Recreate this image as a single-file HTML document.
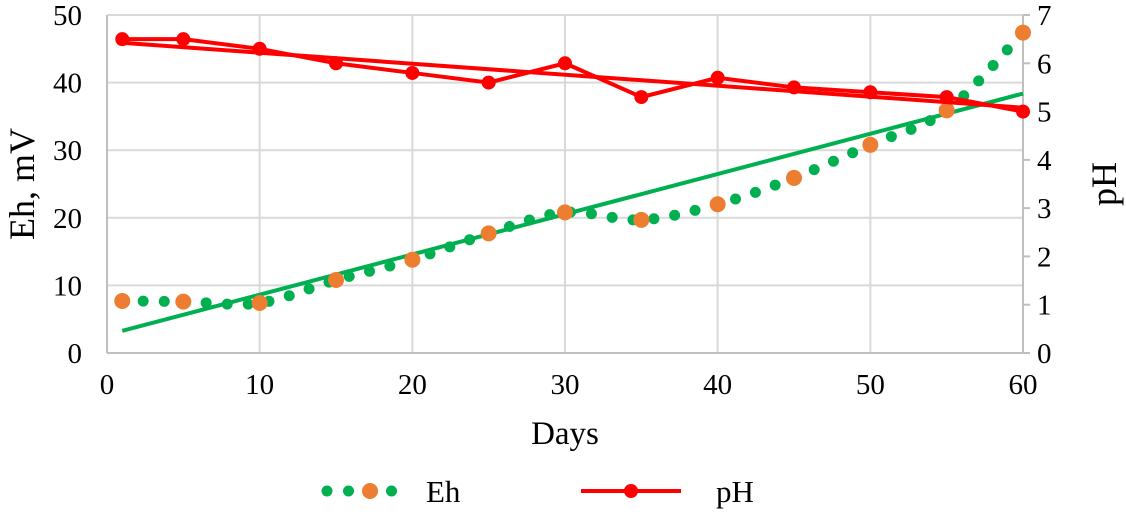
<!DOCTYPE html>
<html><head><meta charset="utf-8"><style>
body{margin:0;background:#fff}
svg{display:block;font-family:"Liberation Serif",serif}
</style></head><body>
<svg id="chart" width="1126" height="520" viewBox="0 0 1126 520">
<g id="grid"></g><g id="axes"></g><g id="series"></g><g id="legend"></g>
</svg>
<script>
const days=[1,5,10,15,20,25,30,35,40,45,50,55,60];
const ehValues=[7.7,7.6,7.4,10.8,13.8,17.7,20.8,19.7,22,25.9,30.8,35.9,47.4];
const phValues=[6.5,6.5,6.3,6.0,5.8,5.6,6.0,5.3,5.7,5.5,5.4,5.3,5.0];
const xTicks=[0,10,20,30,40,50,60];
const ehTicks=[0,10,20,30,40,50];
const phTicks=[0,1,2,3,4,5,6,7];
const NS='http://www.w3.org/2000/svg';
const X0=107,X1=1023,Y0=353,Y1=15;
const x=d=>X0+(d/60)*(X1-X0);
const yEh=v=>Y0-(v/50)*(Y0-Y1);
const yPh=v=>Y0-(v/7)*(Y0-Y1);
function mk(tag,attrs,parent,text){const e=document.createElementNS(NS,tag);for(const k in attrs)e.setAttribute(k,attrs[k]);if(text!==undefined)e.textContent=text;document.getElementById(parent).appendChild(e);return e;}
ehTicks.forEach(t=>{if(t===0)return;const g=mk('line',{x1:X0,x2:X1,y1:yEh(t),y2:yEh(t),stroke:'#d9d9d9','stroke-width':2},'grid');

});
xTicks.forEach(t=>{if(t===0||t===60)return;const g=mk('line',{x1:x(t),x2:x(t),y1:Y1,y2:Y0,stroke:'#d9d9d9','stroke-width':2},'grid');

});
let a=mk('line',{x1:X0,x2:X0,y1:Y1,y2:Y0,stroke:'#bfbfbf','stroke-width':2},'axes');


a=mk('line',{x1:X1,x2:X1,y1:Y1,y2:Y0,stroke:'#bfbfbf','stroke-width':2},'axes');


a=mk('line',{x1:X0,x2:X1,y1:Y0,y2:Y0,stroke:'#bfbfbf','stroke-width':2},'axes');


ehTicks.forEach(t=>{const e=mk('text',{x:82,y:yEh(t)+10,'font-size':29,'text-anchor':'end'},'axes',t);

});
phTicks.forEach(t=>{const e=mk('text',{x:1037,y:yPh(t)+10,'font-size':29},'axes',t);


const k=mk('line',{x1:X1,x2:X1+7,y1:yPh(t),y2:yPh(t),stroke:'#bfbfbf','stroke-width':2},'axes');

});
xTicks.forEach(t=>{const e=mk('text',{x:x(t),y:394,'font-size':29,'text-anchor':'middle'},'axes',t);

});
let tl=mk('text',{x:565,y:444,'font-size':33,'text-anchor':'middle'},'axes','Days');


tl=mk('text',{x:0,y:0,'font-size':36,'text-anchor':'middle',transform:'translate(34,184) rotate(-90)'},'axes','Eh, mV');


tl=mk('text',{x:0,y:0,'font-size':36,'text-anchor':'middle',transform:'translate(1116,184) rotate(-90)'},'axes','pH');


function fit(xs,ys){const n=xs.length;let sx=0,sy=0,sxx=0,sxy=0;for(let i=0;i<n;i++){sx+=xs[i];sy+=ys[i];sxx+=xs[i]*xs[i];sxy+=xs[i]*ys[i];}const b=(n*sxy-sx*sy)/(n*sxx-sx*sx);return [b,(sy-b*sx)/n];}
function smooth(pts){let d='M'+pts[0][0]+','+pts[0][1];for(let i=0;i<pts.length-1;i++){const p0=pts[Math.max(0,i-1)],p1=pts[i],p2=pts[i+1],p3=pts[Math.min(pts.length-1,i+2)];d+=` C${p1[0]+(p2[0]-p0[0])/6},${p1[1]+(p2[1]-p0[1])/6} ${p2[0]-(p3[0]-p1[0])/6},${p2[1]-(p3[1]-p1[1])/6} ${p2[0]},${p2[1]}`;}return d;}
const ehPts=days.map((d,i)=>[x(d),yEh(ehValues[i])]);
let p=mk('path',{d:smooth(ehPts),fill:'none',stroke:'#00b050','stroke-width':11,'stroke-linecap':'round','stroke-dasharray':'0 21'},'series');


let [b,c]=fit(days,ehValues);
p=mk('line',{x1:x(1),y1:yEh(b*1+c),x2:x(60),y2:yEh(b*60+c),stroke:'#00b050','stroke-width':4},'series');


ehPts.forEach(q=>{const e=mk('circle',{cx:q[0],cy:q[1],r:8,fill:'#ed7d31'},'series');

});
const phPts=days.map((d,i)=>[x(d),yPh(phValues[i])]);
[b,c]=fit(days,phValues);
p=mk('line',{x1:x(1),y1:yPh(b*1+c),x2:x(60),y2:yPh(b*60+c),stroke:'#ff0000','stroke-width':4},'series');


p=mk('polyline',{points:phPts.map(q=>q.join(',')).join(' '),fill:'none',stroke:'#ff0000','stroke-width':4},'series');


phPts.forEach(q=>{const e=mk('circle',{cx:q[0],cy:q[1],r:7,fill:'#ff0000'},'series');

});
let lg=mk('line',{x1:327,x2:413,y1:491,y2:491,stroke:'#00b050','stroke-width':11,'stroke-linecap':'round','stroke-dasharray':'0 21.5'},'legend');


lg=mk('circle',{cx:370,cy:491,r:8,fill:'#ed7d31'},'legend');


lg=mk('text',{x:426,y:502,'font-size':31},'legend','Eh');


lg=mk('line',{x1:581,x2:681,y1:491,y2:491,stroke:'#ff0000','stroke-width':4},'legend');


lg=mk('circle',{cx:631,cy:491,r:7,fill:'#ff0000'},'legend');


lg=mk('text',{x:716,y:502,'font-size':31},'legend','pH');


</script>
</body></html>
